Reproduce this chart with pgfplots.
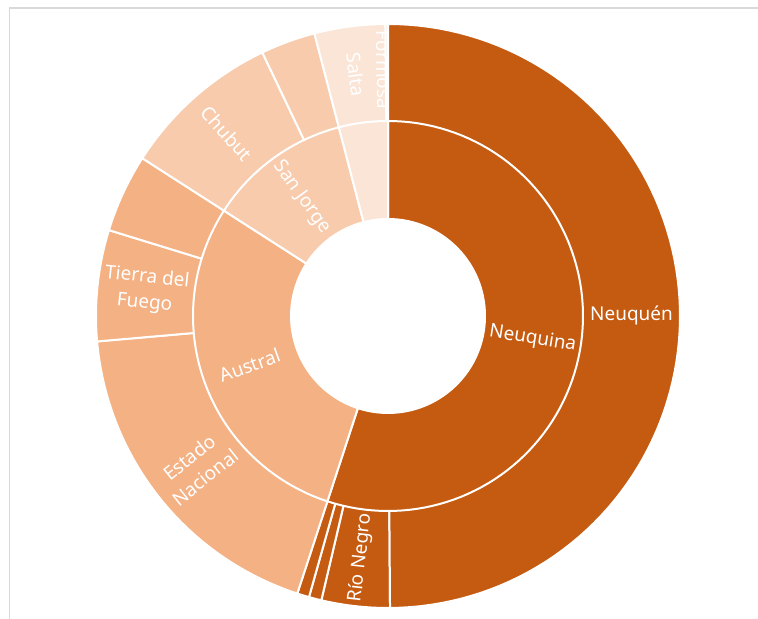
\documentclass[border=0pt]{standalone}
\usepackage{pgfplots}
\pgfplotsset{compat=1.18}
\usepackage{fontspec}
\setmainfont{Noto Sans}
\definecolor{cN}{HTML}{C55A11}
\definecolor{cA}{HTML}{F4B183}
\definecolor{cS}{HTML}{F8CBAD}
\definecolor{cR}{HTML}{FBE5D6}
\definecolor{frame}{HTML}{D9D9D9}
% sector: start angle, end angle (clockwise from top, degrees), radius, colour
\newcommand{\sbwedge}[4]{%
  \addplot[fill=#4, draw=white, line width=1pt, line join=round,
    domain=#1:#2, samples=90] ({#3*sin(x)},{#3*cos(x)}) -- (axis cs:0,0) -- cycle;}
% label: angle, radius, rotation, text
\newcommand{\sblabel}[4]{%
  \node[text=white, align=center, rotate=#3, inner sep=0pt,
    font=\fontsize{9.5}{12.8}\selectfont] at (axis cs:{#2*sin(#1)},{#2*cos(#1)}) {#4};}
\begin{document}
\begin{tikzpicture}
\begin{axis}[x=0.5pt, y=0.5pt, xmin=-388, xmax=370, ymin=-303, ymax=316,
  hide axis, clip=false]
% outer ring (provinces), radius 292
\sbwedge{179.6}{193.2}{292}{cN}   % Rio Negro
\sbwedge{193.2}{195.7}{292}{cN}
\sbwedge{195.7}{198.1}{292}{cN}
\sbwedge{198.1}{265.0}{292}{cA}   % Estado Nacional
\sbwedge{265.0}{287.1}{292}{cA}   % Tierra del Fuego
\sbwedge{287.1}{302.7}{292}{cA}
\sbwedge{302.7}{334.5}{292}{cS}   % Chubut
\sbwedge{334.5}{345.4}{292}{cS}
\sbwedge{345.4}{359.5}{292}{cR}   % Salta
\sbwedge{359.5}{360}{292}{cR}     % Formosa
\sblabel{359.0}{246}{-89.75}{Formosa}
\sbwedge{0}{179.6}{292}{cN}       % Neuquen
% inner ring (basins), radius 195
\sbwedge{0}{198.1}{195}{cN}       % Neuquina
\sbwedge{198.1}{302.7}{195}{cA}   % Austral
\sbwedge{302.7}{345.4}{195}{cS}   % San Jorge
\sbwedge{345.4}{360}{195}{cR}     % Noroeste
% hole
\addplot[fill=white, draw=none, domain=0:360, samples=120] ({98*sin(x)},{98*cos(x)}) -- cycle;
% labels
\sblabel{89.8}{243.5}{0.2}{Neuquén}
\sblabel{186.4}{243.5}{83.6}{Río Negro}
\sblabel{231.55}{243.5}{38.45}{Estado\\Nacional}
\sblabel{276.05}{243.5}{-6.05}{Tierra del\\Fuego}
\sblabel{318.6}{243.5}{-48.6}{Chubut}
\sblabel{352.45}{243.5}{-82.45}{Salta}
\sblabel{99.05}{146.5}{-9.05}{Neuquina}
\sblabel{250.4}{146.5}{19.6}{Austral}
\sblabel{324.05}{146.5}{-54.05}{San Jorge}
% chart frame
\draw[frame, line width=0.75pt] (axis cs:-378.5,-303) -- (axis cs:-378.5,308) -- (axis cs:370,308);
\coordinate (ll) at (axis cs:-388,-303);
\coordinate (ur) at (axis cs:370,316);
\end{axis}
\pgfresetboundingbox
\path (ll) rectangle (ur);
\end{tikzpicture}
\end{document}
